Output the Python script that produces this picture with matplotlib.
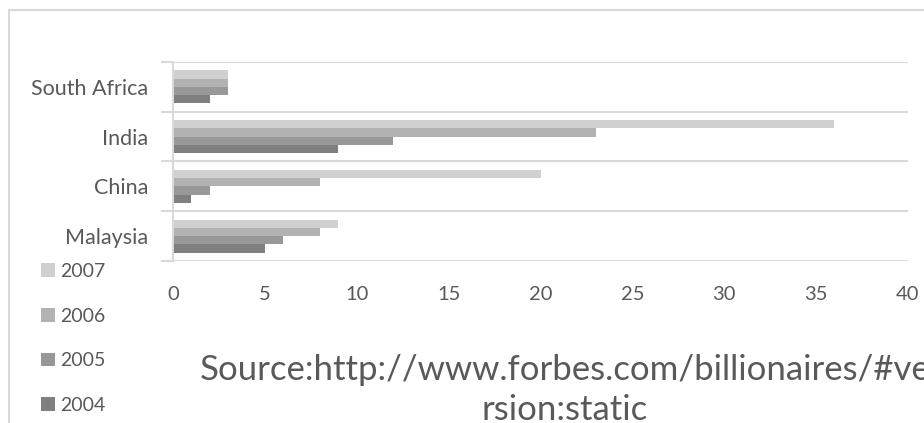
import matplotlib
matplotlib.use('Agg')
import matplotlib.pyplot as plt
from matplotlib.patches import Rectangle

countries = ['Malaysia', 'China', 'India', 'South Africa']
years = ['2004', '2005', '2006', '2007']
v2004 = [5, 1, 9, 2]
v2005 = [6, 2, 12, 3]
v2006 = [8, 8, 23, 3]
v2007 = [9, 20, 36, 3]
xticks = [0, 5, 10, 15, 20, 25, 30, 35, 40]
source = 'Source:http://www.forbes.com/billionaires/#ve\nrsion:static'

plt.rcParams['font.family'] = ['Lato', 'DejaVu Sans']
txt = '#595959'
grid = '#d9d9d9'
colors = ['#7f7f7f', '#989898', '#b2b2b2', '#d0d0d0']

fig = plt.figure(figsize=(9.24, 4.23), dpi=100)
ax = fig.add_axes([173 / 924, 1 - 261 / 423, 735 / 924, 199 / 423])

h = 0.165
series = [v2004, v2005, v2006, v2007]
for i, (vals, yr) in enumerate(zip(series, years)):
    pos = [k + (i - 1.5) * h for k in range(len(countries))]
    ax.barh(pos, vals, height=h, color=colors[i], label=yr, zorder=3)

ax.set_xlim(0, 40)
ax.set_ylim(-0.5, 3.5)
ax.set_yticks(range(len(countries)))
ax.set_yticklabels(countries, fontsize=15.5, color=txt)
ax.set_yticks([-0.5, 0.5, 1.5, 2.5, 3.5], minor=True)
ax.tick_params(axis='y', which='major', length=0, pad=18)
ax.tick_params(axis='y', which='minor', length=9, color=grid, width=1.5)
ax.set_xticks(xticks)
ax.set_xticklabels([str(t) for t in xticks], fontsize=14.5, color=txt)
ax.tick_params(axis='x', length=0, pad=18)
ax.grid(axis='y', which='minor', color=grid, linewidth=1.5, zorder=0)
for s in ['top', 'right', 'bottom']:
    ax.spines[s].set_visible(False)
ax.spines['left'].set_color(grid)
ax.spines['left'].set_linewidth(1.5)
ax.spines['left'].set_zorder(4)

handles, labels = ax.get_legend_handles_labels()
fig.legend(handles[::-1], labels[::-1], loc='upper left',
           bbox_to_anchor=(41 / 924, 1 - 263 / 423), frameon=False,
           fontsize=14, labelcolor=txt, handlelength=0.7, handleheight=0.7,
           handletextpad=0.3, labelspacing=1.42, borderpad=0, borderaxespad=0)

fig.text(565 / 924, 1 - 390 / 423, source, ha='center', va='center',
         fontsize=25, color=txt, linespacing=1.3)

fig.add_artist(Rectangle((8.5 / 924, -0.05), 1.1, 1.05 - 10.5 / 423,
                         transform=fig.transFigure, fill=False,
                         edgecolor=grid, linewidth=1.5))

fig.savefig('out.png', dpi=100)
